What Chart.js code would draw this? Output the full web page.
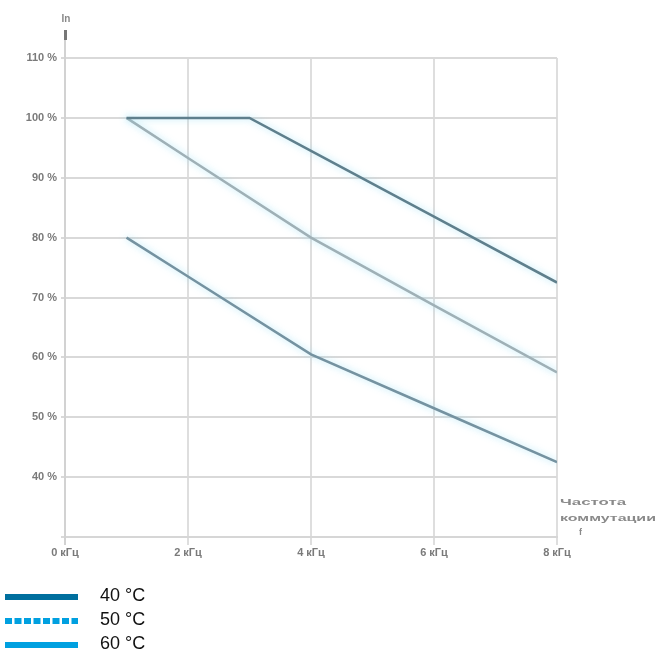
<!DOCTYPE html>
<html>
<head>
<meta charset="utf-8">
<script src="https://cdn.jsdelivr.net/npm/chart.js@4/dist/chart.umd.min.js"></script>
<style>
  html, body { margin: 0; padding: 0; background: #fff; }
  #wrap { width: 658px; height: 657px; position: relative; }
</style>
</head>
<body>
<div id="wrap"><canvas id="chart" width="658" height="657"></canvas></div>
<script>
// switching frequency, kHz
const XTICKS = [0, 2, 4, 6, 8]
const XTICK_LABELS = ['0 кГц', '2 кГц', '4 кГц', '6 кГц', '8 кГц']
const YTICKS = [40, 50, 60, 70, 80, 90, 100, 110]

const SERIES_NAMES = ['40 °C', '50 °C', '60 °C']

const FREQ_40 = [1, 3, 4, 6, 8]
const IN_40 = [100, 100, 94.5, 83.5, 72.5]

const FREQ_50 = [1, 2, 4, 6, 8]
const IN_50 = [100, 93.3, 80, 68.7, 57.5]

const FREQ_60 = [1, 2, 4, 6, 8]
const IN_60 = [80, 73.5, 60.5, 51.5, 42.5]

const LINE_COLORS = ['#5f7f8c', '#9fb0b6', '#7592a0']
const LEGEND_COLORS = ['#006f9e', '#00a0e0', '#00a0e0']
const FONT = '"Liberation Sans", Arial, sans-serif'

const toPoints = (xs, ys) => xs.map((x, i) => ({ x, y: ys[i] }))

const glow = {
  id: 'glow',
  beforeDatasetDraw(chart) {
    const ctx = chart.ctx
    ctx.save()
    ctx.shadowColor = 'rgba(140, 220, 245, 0.7)'
    ctx.shadowBlur = 7
  },
  afterDatasetDraw(chart) {
    chart.ctx.restore()
  },
}

// draws text stretched to a given width (the caption is wide and low)
const stretchText = (ctx, text, x, y, width) => {
  const w = ctx.measureText(text).width
  ctx.save()
  ctx.translate(x, y)
  ctx.scale(width / w, 1)
  ctx.fillText(text, 0, 0)
  ctx.restore()
}

const extras = {
  id: 'extras',
  afterDraw(chart) {
    const ctx = chart.ctx
    const { left, right, bottom } = chart.chartArea
    ctx.save()
    // vertical axis with arrow
    ctx.strokeStyle = '#d2d2d2'
    ctx.lineWidth = 2
    ctx.beginPath()
    ctx.moveTo(left, 30)
    ctx.lineTo(left, bottom + 8)
    ctx.stroke()
    ctx.fillStyle = '#777'
    ctx.fillRect(left - 1, 30, 3, 10)
    ctx.font = 'bold 10px ' + FONT
    ctx.fillStyle = '#888'
    ctx.textAlign = 'center'
    ctx.textBaseline = 'middle'
    ctx.fillText('In', left + 1, 19)

    // axis caption
    ctx.textAlign = 'left'
    ctx.font = 'bold 9px ' + FONT
    ctx.fillStyle = '#8a8a8a'
    stretchText(ctx, 'Частота', right + 3, 503, 66)
    stretchText(ctx, 'коммутации', right + 3, 519, 96)
    ctx.fillText('f', right + 22, 533)

    // legend
    const rows = [597, 621, 645]
    ctx.font = '18px ' + FONT
    ctx.textBaseline = 'middle'
    chart.data.datasets.forEach((ds, i) => {
      const y = rows[i]
      ctx.strokeStyle = LEGEND_COLORS[i]
      ctx.lineWidth = 6
      ctx.setLineDash(i === 1 ? [7, 2.5] : [])
      ctx.beginPath()
      ctx.moveTo(5, y)
      ctx.lineTo(78, y)
      ctx.stroke()
      ctx.setLineDash([])
      ctx.fillStyle = '#111'
      ctx.fillText(ds.label, 100, y - 1)
    })
    ctx.restore()
  },
}

new Chart(document.getElementById('chart'), {
  type: 'line',
  data: {
    datasets: [
      { label: SERIES_NAMES[0], data: toPoints(FREQ_40, IN_40), borderColor: LINE_COLORS[0] },
      { label: SERIES_NAMES[1], data: toPoints(FREQ_50, IN_50), borderColor: LINE_COLORS[1] },
      { label: SERIES_NAMES[2], data: toPoints(FREQ_60, IN_60), borderColor: LINE_COLORS[2] },
    ],
  },
  options: {
    responsive: false,
    animation: false,
    layout: { padding: { left: 0, top: 58, right: 101, bottom: 90 } },
    elements: {
      line: { borderWidth: 2.5, tension: 0 },
      point: { radius: 0 },
    },
    plugins: {
      legend: { display: false },
      tooltip: { enabled: false },
    },
    scales: {
      x: {
        type: 'linear',
        min: 0,
        max: 8,
        afterFit: (s) => { s.height = 30 },
        afterBuildTicks: (s) => { s.ticks = XTICKS.map((v) => ({ value: v })) },
        ticks: {
          callback: (v) => XTICK_LABELS[XTICKS.indexOf(v)],
          color: '#7a7a7a',
          font: { size: 11, weight: 'bold', family: FONT },
          padding: 1,
          maxRotation: 0,
        },
        grid: { color: '#dedede', lineWidth: 2, tickLength: 8 },
        border: { color: '#d6d6d6', width: 2 },
      },
      y: {
        min: 30,
        max: 110,
        afterFit: (s) => { s.width = 65 },
        afterBuildTicks: (s) => { s.ticks = [30, ...YTICKS].map((v) => ({ value: v })) },
        ticks: {
          callback: (v) => (YTICKS.includes(v) ? v + ' %' : ''),
          color: '#7a7a7a',
          font: { size: 11, weight: 'bold', family: FONT },
          padding: 4,
        },
        grid: { color: '#d9d9d9', lineWidth: 2, tickLength: 4 },
        border: { display: false },
      },
    },
  },
  plugins: [glow, extras],
})
</script>
</body>
</html>
